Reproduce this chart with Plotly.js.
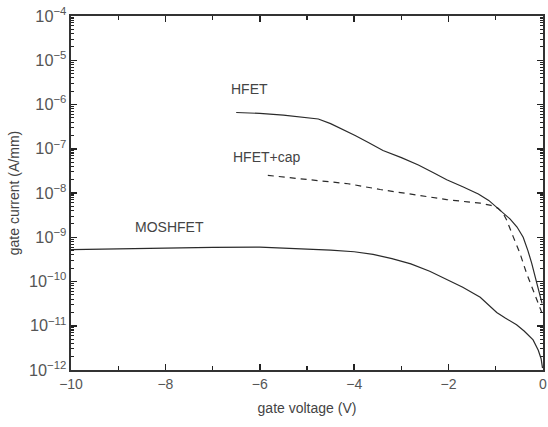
<!DOCTYPE html>
<html><head><meta charset="utf-8">
<script src="https://cdn.plot.ly/plotly-3.0.1.min.js"></script>
<style>html,body{margin:0;padding:0;background:#fff}#c{width:548px;height:427px}</style>
</head><body><div id="c"></div>
<script>
var hfetV = [-6.50,-6.0,-5.5,-5.0,-4.76,-4.5,-4.2,-3.98,-3.7,-3.39,-3.0,-2.64,-2.3,-2.04,-1.7,-1.37,-1.15,-1.0,-0.85,-0.70,-0.55,-0.42,-0.32,-0.24,-0.13,-0.02];
var hfetI = [6.6e-7,6.3e-7,5.75e-7,5.1e-7,4.7e-7,3.7e-7,2.6e-7,2.0e-7,1.38e-7,9.1e-8,6.3e-8,4.3e-8,2.8e-8,2.0e-8,1.38e-8,9.5e-9,6.8e-9,5.0e-9,3.7e-9,2.6e-9,1.7e-9,1.0e-9,5.0e-10,2.6e-10,9.1e-11,3.2e-11];
var capV = [-5.83,-5.0,-4.13,-3.45,-2.64,-2.04,-1.6,-1.33,-1.1,-0.95,-0.85,-0.77,-0.63,-0.49,-0.35,-0.21,-0.07,-0.01];
var capI = [2.5e-8,2.05e-8,1.62e-8,1.2e-8,8.9e-9,7.1e-9,6.3e-9,5.9e-9,5.25e-9,4.5e-9,3.55e-9,2.45e-9,1.02e-9,4.4e-10,1.55e-10,6.5e-11,2.7e-11,1.8e-11];
var mosV = [-10.0,-9.0,-8.0,-7.0,-6.0,-5.0,-4.5,-4.0,-3.6,-3.2,-2.8,-2.4,-2.04,-1.7,-1.33,-1.1,-0.98,-0.8,-0.56,-0.4,-0.21,-0.10,-0.04,-0.01];
var mosI = [5.25e-10,5.5e-10,5.75e-10,5.9e-10,6.0e-10,5.5e-10,5.1e-10,4.7e-10,4.1e-10,3.3e-10,2.5e-10,1.7e-10,1.1e-10,7.4e-11,4.4e-11,2.6e-11,2.0e-11,1.5e-11,1.05e-11,7.6e-12,4.8e-12,2.8e-12,1.8e-12,1.1e-12];
var labels = [
  {text:'HFET', x:-6.65, y:2.2e-6},
  {text:'HFET+cap', x:-6.62, y:6.4e-8},
  {text:'MOSHFET', x:-8.68, y:1.7e-9}
];
var lineCol = '#2a2a2a';
var traces = [
  {x:hfetV, y:hfetI, mode:'lines', line:{color:lineCol, width:1.2}},
  {x:capV, y:capI, mode:'lines', line:{color:lineCol, width:1.2, dash:'6px,5px'}},
  {x:mosV, y:mosI, mode:'lines', line:{color:lineCol, width:1.2}}
];
var fam = 'Liberation Sans, Arial, sans-serif';
var layout = {
  width:548, height:427,
  margin:{l:71, r:5, t:16, b:57},
  paper_bgcolor:'#fff', plot_bgcolor:'#fff',
  showlegend:false,
  font:{family:fam, size:13, color:'#444'},
  xaxis:{range:[-10,0], dtick:2, tick0:0, ticks:'inside', ticklen:6, tickwidth:1.5, tickcolor:'#222',
    showline:true, linecolor:'#333', linewidth:2, mirror:'ticks', showgrid:false, zeroline:false,
    minor:{dtick:1, ticks:'inside', ticklen:4, tickwidth:1.2, tickcolor:'#222', showgrid:false},
    tickfont:{family:fam, size:14, color:'#555'},
    title:{text:'gate voltage (V)', font:{family:fam, size:14, color:'#444'}, standoff:12}},
  yaxis:{type:'log', range:[-12,-4], dtick:1, exponentformat:'power', showexponent:'all',
    ticks:'inside', ticklen:6, tickwidth:1.5, tickcolor:'#222',
    showline:true, linecolor:'#333', linewidth:2, mirror:'ticks', showgrid:false, zeroline:false,
    minor:{dtick:'D1', ticks:'inside', ticklen:3, tickwidth:1.1, tickcolor:'#222', showgrid:false},
    tickfont:{family:fam, size:13, color:'#555'},
    title:{text:'gate current (A/mm)', font:{family:fam, size:14, color:'#444'}, standoff:6}},
  annotations: labels.map(function(l){return {text:l.text, x:l.x, y:Math.log10(l.y), xref:'x', yref:'y', showarrow:false, xanchor:'left', yanchor:'middle',
    font:{family:fam, size:14, color:'#444'}};})
};
Plotly.newPlot('c', traces, layout, {staticPlot:true});
</script></body></html>
